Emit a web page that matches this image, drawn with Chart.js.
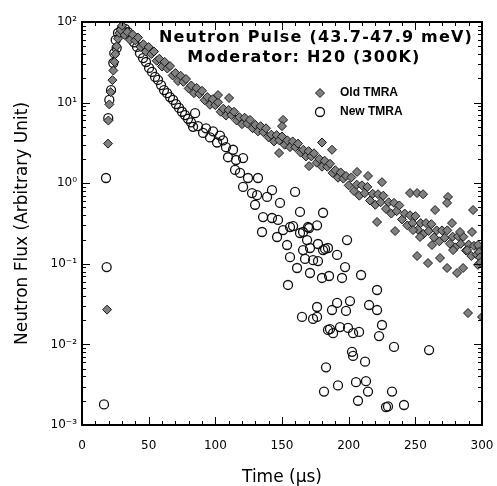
<!DOCTYPE html>
<html>
<head>
<meta charset="utf-8">
<title>Neutron Pulse</title>
<script src="https://cdn.jsdelivr.net/npm/chart.js@4.4.1/dist/chart.umd.min.js"></script>
<style>
    html, body { margin: 0; padding: 0; background: #fff; }
    canvas { display: block; }
</style>
</head>
<body>
<canvas id="pulseChart" width="497" height="486"></canvas>
<script>
/**
 * Old TMRA (filled diamonds), time in microseconds and flux values
 */
const oldTime = [
    18.8, 19.5, 19.8, 20.5, 21.5, 22.8, 23.5, 24.3, 25, 26, 27, 28, 29,
    30, 32, 34, 36, 38, 40, 42, 44, 46, 48, 50, 52, 54, 56, 58, 60, 62, 64, 66, 68, 70,
    72, 74, 76, 78, 80, 82, 84, 86, 88, 90, 92, 94, 96, 98, 100, 102, 104, 106, 108, 110,
    112, 114, 116, 118, 120, 122, 124, 126, 128, 130, 132, 134, 136, 138, 140, 142, 144,
    146, 148, 150, 152, 154, 156, 158, 160, 162, 164, 166, 168, 170, 172, 174, 176, 178,
    180, 182, 184, 186, 188, 190, 192, 194, 196, 198, 200, 202, 204, 206, 208, 210, 212,
    214, 216, 218, 220, 222, 224, 226, 228, 230, 232, 234, 236, 238, 240, 242, 244, 246,
    248, 250, 252, 254, 256, 258, 260, 262, 264, 266, 268, 270, 272, 274, 276, 278, 280,
    282, 284, 286, 288, 290, 292, 294, 296, 298,
    102, 110.3, 150.8, 150, 147.8, 170.3, 180, 187.5, 206.3, 214.5, 225, 246, 251.3, 255.8,
    274.5, 273.8, 293.3, 264.8, 221.3, 234.8, 248.3, 253.5, 262.5, 251.3, 259.5, 273.8,
    281.3, 285.8, 268.5, 278.3, 288.8, 292.5, 283.5, 277.5, 289.5, 300, 297, 297.8, 298.5,
    297, 299
];
const oldFlux = [
    0.027, 3.1, 6.0, 9.5, 13.5, 19, 25, 32, 40, 50, 62, 73, 80,
    90, 69, 75, 60, 70, 59, 64, 49, 53, 43, 49, 40, 43, 33, 35, 28, 32, 26.5, 28.4, 21.7, 23.3,
    18.5, 21.5, 18.1, 19.6, 15, 16.3, 13.1, 15.2, 12.8, 14, 10.7, 11.7, 9.4, 11, 9.3, 10.1, 7.7, 8.4, 6.9, 8.1,
    7.0, 7.7, 6.0, 6.6, 5.4, 6.5, 5.5, 6.1, 4.8, 5.3, 4.4, 5.1, 4.3, 4.8, 3.7, 4.0, 3.3,
    3.95, 3.4, 3.8, 3.0, 3.4, 2.8, 3.3, 2.8, 3.1, 2.4, 2.6, 2.15, 2.5, 2.15, 2.35, 1.8, 2.0,
    1.6, 1.9, 1.6, 1.74, 1.34, 1.45, 1.17, 1.36, 1.14, 1.23, 0.94, 1.18, 0.80, 0.96, 0.70, 0.94, 0.75,
    0.90, 0.61, 0.74, 0.54, 0.73, 0.58, 0.70, 0.48, 0.58, 0.42, 0.57, 0.45, 0.53, 0.355, 0.42, 0.30, 0.40,
    0.32, 0.39, 0.265, 0.32, 0.234, 0.32, 0.255, 0.31, 0.213, 0.26, 0.19, 0.26, 0.21, 0.26, 0.177, 0.217, 0.16,
    0.22, 0.177, 0.217, 0.146, 0.173, 0.125, 0.167, 0.13, 0.157,
    12.4, 11.4, 6.1, 5.1, 2.37, 1.63, 3.2, 2.6, 1.38, 1.23, 1.03, 0.755, 0.755, 0.73,
    0.675, 0.57, 0.465, 0.465, 0.33, 0.255, 0.262, 0.215, 0.171, 0.125, 0.102, 0.0887,
    0.0769, 0.0887, 0.118, 0.148, 0.148, 0.248, 0.248, 0.32, 0.0245, 0.0219, 0.171, 0.14, 0.12,
    0.097, 0.104
];

/**
 * New TMRA (open circles)
 */
const newTime = [
    16.5, 18.5, 18, 19.7, 20.5, 21.8, 23.5, 24.2, 25.3, 26, 27, 29.8, 32.3, 34.5, 36.8, 39,
    41.3, 43.5, 45.8, 48, 50.3, 52.5, 54.8, 57, 59.3, 61.5, 63.8, 66, 68.3, 70.5, 72.8, 75,
    77.3, 79.5, 81.8, 84.8, 83.3, 87, 90.8, 93, 96, 98.3, 101.3, 103.5, 105.8, 108, 109.5,
    113.3, 115.5, 120.8, 114.8, 118.5, 124.5, 132, 120.8, 127.5, 131.3, 138.8, 142.5, 129.8,
    148.5, 159.8, 135.8, 142.5, 147, 163.5, 180.8, 156, 169.5, 176.3, 135, 146.3, 150.8,
    158.3, 153.8, 156, 161.3, 154.5, 163.5, 165.8, 168.8, 171, 173.3, 171, 177, 180, 180.8,
    165, 173.3, 176.3, 184.5, 165.8, 170.3, 177, 198.8, 182.3, 184.5, 191.3, 167.3, 185.3,
    195, 197.3, 209.3, 221.3, 176.3, 187.5, 191.3, 198, 201, 186, 188.3, 193.5, 199.5, 203.3,
    207.8, 215.3, 221.3, 225, 222.8, 234, 260.3, 202.5, 203.3, 212.3, 183, 192, 205.5, 213,
    214.5, 232.5, 181.5, 207, 228, 229.5, 241.5
];
const newFlux = [
    0.0018, 0.091, 1.16, 6.4, 10.8, 14.3, 31, 41, 60, 47.5, 73, 82, 82, 75, 67, 56,
    49, 41, 35.7, 31.9, 26.9, 24, 20.8, 19.1, 16.5, 14.3, 13.1, 11.7, 10.8, 9.6, 8.6, 7.7,
    7.0, 6.3, 5.7, 7.4, 5.0, 5.1, 4.2, 4.8, 3.7, 4.4, 3.2, 3.9, 3.4, 2.8, 2.1,
    2.6, 1.94, 2.05, 1.46, 1.34, 1.16, 1.16, 0.90, 0.755, 0.71, 0.675, 0.82, 0.54,
    0.57, 0.78, 0.38, 0.37, 0.35, 0.44, 0.43, 0.286, 0.286, 0.30, 0.248, 0.215, 0.262,
    0.294, 0.171, 0.121, 0.0887, 0.0546, 0.241, 0.148, 0.197, 0.157, 0.111, 0.0769, 0.108, 0.0667, 0.148,
    0.0219, 0.0207, 0.0219, 0.0151, 0.248, 0.278, 0.176, 0.197, 0.153, 0.157, 0.129, 0.115, 0.0706,
    0.0667, 0.091, 0.0726, 0.0473, 0.0291, 0.0267, 0.0327, 0.026, 0.0345, 0.0155, 0.0138, 0.0164, 0.016, 0.0138,
    0.0143, 0.0308, 0.0267, 0.0174, 0.0127, 0.0093, 0.0085, 0.0081, 0.0072, 0.0061, 0.0052, 0.0031, 0.0034, 0.0035,
    0.0026, 0.0026, 0.0026, 0.0020, 0.00167, 0.0017, 0.00177
];

/**
 * Axis ticks
 */
const xTickValues = [0, 50, 100, 150, 200, 250, 300];
const yTickValues = [0.001, 0.01, 0.1, 1, 10, 100];
const yTickLabels = ['10⁻³', '10⁻²', '10⁻¹', '10⁰', '10¹', '10²'];

const titleLines = ['Neutron Pulse (43.7-47.9 meV)', 'Moderator: H20 (300K)'];
const seriesNames = ['Old TMRA', 'New TMRA'];

function toPoints(xs, ys) {
    return xs.map((x, i) => ({ x: x, y: ys[i] }));
}

/**
 * Frame, inward ticks, in-plot title and legend
 */
const framePlugin = {
    id: 'frame',
    afterDraw(chart) {
        const ctx = chart.ctx;
        const a = chart.chartArea;
        const x = chart.scales.x;
        const y = chart.scales.y;

        ctx.save();
        ctx.strokeStyle = '#000';
        ctx.lineWidth = 1;
        ctx.beginPath();
        for (let e = -3; e <= 2; e++) {
            for (let m = 1; m <= 9; m++) {
                const v = m * Math.pow(10, e);
                if (v > 100.0001) break;
                const py = Math.round(y.getPixelForValue(v)) + 0.5;
                const len = m === 1 ? 8 : 4;
                ctx.moveTo(a.left, py); ctx.lineTo(a.left + len, py);
                ctx.moveTo(a.right, py); ctx.lineTo(a.right - len, py);
            }
        }
        for (let v = 0; v <= 300; v += 10) {
            const px = Math.round(x.getPixelForValue(v)) + 0.5;
            const len = v % 50 === 0 ? 8 : 4;
            ctx.moveTo(px, a.bottom); ctx.lineTo(px, a.bottom - len);
            ctx.moveTo(px, a.top); ctx.lineTo(px, a.top + len);
        }
        ctx.stroke();

        ctx.lineWidth = 2;
        ctx.strokeRect(a.left, a.top, a.right - a.left, a.bottom - a.top);

        // title inside the plot
        ctx.fillStyle = '#000';
        ctx.textBaseline = 'middle';
        ctx.textAlign = 'center';
        ctx.font = 'bold 16px "DejaVu Sans"';
        ctx.letterSpacing = '1.2px';
        ctx.fillText(titleLines[0], 316, 38);
        ctx.fillText(titleLines[1], 304, 58);
        ctx.letterSpacing = '0px';

        // legend
        const lx = 320;
        const ly = [93, 112];
        ctx.beginPath();
        ctx.moveTo(lx, ly[0] - 4.5); ctx.lineTo(lx + 4.5, ly[0]);
        ctx.lineTo(lx, ly[0] + 4.5); ctx.lineTo(lx - 4.5, ly[0]);
        ctx.closePath();
        ctx.fillStyle = '#808080';
        ctx.fill();
        ctx.lineWidth = 1;
        ctx.strokeStyle = '#1a1a1a';
        ctx.stroke();
        ctx.beginPath();
        ctx.arc(lx, ly[1], 4.5, 0, Math.PI * 2);
        ctx.lineWidth = 1.3;
        ctx.strokeStyle = '#111';
        ctx.stroke();

        ctx.fillStyle = '#000';
        ctx.textAlign = 'left';
        ctx.font = 'bold 12px "Liberation Sans"';
        ctx.fillText(seriesNames[0], 340, ly[0]);
        ctx.fillText(seriesNames[1], 340, ly[1]);
        ctx.restore();
    }
};

let ctx = document.getElementById('pulseChart').getContext('2d');

let pulseChart = new Chart(ctx, {
    type: 'scatter',
    data: {
        datasets: [{
            label: seriesNames[0],
            data: toPoints(oldTime, oldFlux),
            pointStyle: 'rectRot',
            pointRadius: 4.5,
            backgroundColor: '#808080',
            borderColor: '#1a1a1a',
            borderWidth: 1
        }, {
            label: seriesNames[1],
            data: toPoints(newTime, newFlux),
            pointStyle: 'circle',
            pointRadius: 4.5,
            backgroundColor: 'rgba(0, 0, 0, 0)',
            borderColor: '#111',
            borderWidth: 1.3
        }]
    },
    options: {
        responsive: false,
        animation: false,
        layout: {
            padding: { top: 22, right: 15, left: 0, bottom: 0 }
        },
        plugins: {
            legend: { display: false },
            tooltip: { enabled: false }
        },
        scales: {
            x: {
                type: 'linear',
                min: 0,
                max: 300,
                afterFit: function (scale) {
                    scale.height = 61;
                    scale.paddingLeft = 0;
                    scale.paddingRight = 0;
                },
                afterBuildTicks: function (scale) {
                    scale.ticks = xTickValues.map(v => ({ value: v }));
                },
                grid: { display: false, drawTicks: false },
                border: { display: false },
                ticks: {
                    padding: 14,
                    maxRotation: 0,
                    color: '#000',
                    font: { family: 'DejaVu Sans', size: 12 }
                },
                title: {
                    display: true,
                    text: 'Time (μs)',
                    color: '#000',
                    font: { family: 'DejaVu Sans', size: 17 },
                    padding: { top: 0, bottom: -2 }
                }
            },
            y: {
                type: 'logarithmic',
                min: 0.001,
                max: 100,
                afterFit: function (scale) { scale.width = 82; },
                afterBuildTicks: function (scale) {
                    scale.ticks = yTickValues.map(v => ({ value: v }));
                },
                grid: { display: false, drawTicks: false },
                border: { display: false },
                ticks: {
                    padding: 5,
                    autoSkip: false,
                    color: '#000',
                    font: { family: 'DejaVu Sans', size: 12 },
                    callback: function (value) {
                        const i = yTickValues.findIndex(v => Math.abs(v - value) / v < 1e-6);
                        return i >= 0 ? yTickLabels[i] : '';
                    }
                },
                title: {
                    display: true,
                    text: 'Neutron Flux (Arbitrary Unit)',
                    color: '#000',
                    font: { family: 'DejaVu Sans', size: 17 },
                    padding: { top: 12, bottom: 0 }
                }
            }
        }
    },
    plugins: [framePlugin]
});
</script>
</body>
</html>
